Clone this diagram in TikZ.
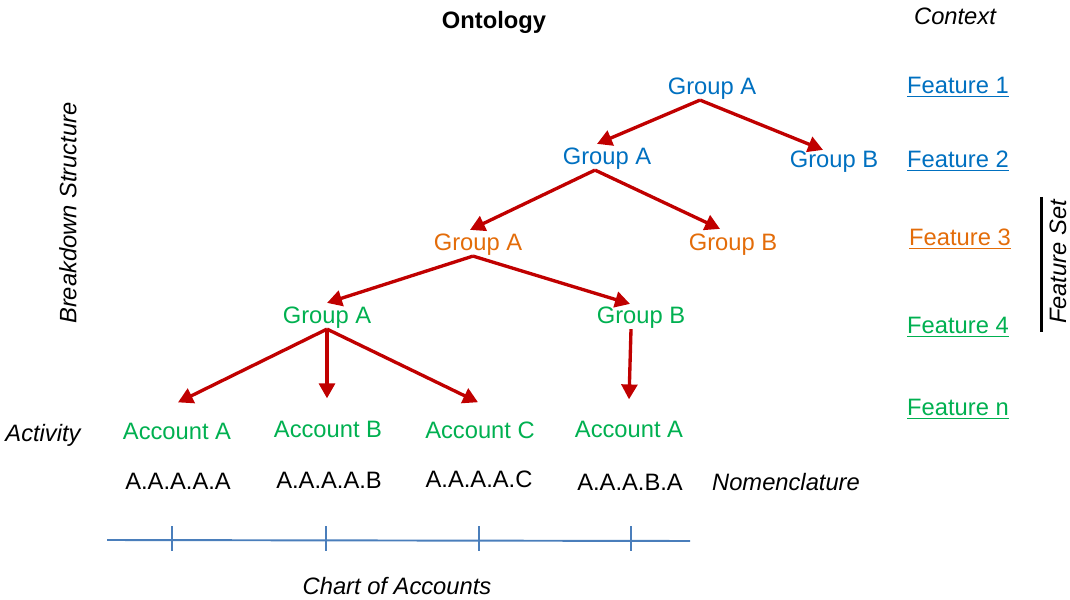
\documentclass[tikz,border=0pt]{standalone}
\usepackage{fontspec}
\setmainfont{Liberation Sans}
\usepackage{tikz}
\usetikzlibrary{arrows.meta}
\usepackage{xcolor}

\definecolor{featblue}{HTML}{0070C0}
\definecolor{featorange}{HTML}{E36C09}
\definecolor{featgreen}{HTML}{00B050}
\definecolor{arrowred}{HTML}{C00000}
\definecolor{chartblue}{HTML}{4A7EBB}

\tikzset{
    lbl/.style={inner sep=0pt, font=\fontsize{13.5}{16}\selectfont},
    side/.style={lbl, font=\fontsize{13.5}{16}\selectfont\itshape},
    branch/.style={-{Triangle[length=8.5pt,width=9pt]}, arrowred, line width=1.9pt}
}

\begin{document}
\begin{tikzpicture}
        \useasboundingbox (0, 0) rectangle (21.4, 11.98);

        % Titles
        \node[lbl, font=\fontsize{13.5}{16}\selectfont\bfseries] (onto) at (9.88, 11.54) {Ontology};
        \node[side] (ctx) at (19.10, 11.66) {Context};
        \node[side, rotate=90] (brk) at (1.36, 7.72) {Breakdown Structure};

        % Features
        \node[lbl, featblue] (f1) at (19.16, 10.24) {\underline{Feature 1}};
        \node[lbl, featblue] (f2) at (19.16, 8.76) {\underline{Feature 2}};
        \node[lbl, featorange] (f3) at (19.20, 7.20) {\underline{Feature 3}};
        \node[lbl, featgreen] (f4) at (19.16, 5.44) {\underline{Feature 4}};
        \node[lbl, featgreen] (fn) at (19.16, 3.80) {\underline{Feature n}};

        % Feature set bracket
        \coordinate (fstop) at (20.82, 8.04);
        \coordinate (fsbot) at (20.82, 5.34);
        \draw[line width=1.7pt] (fstop) -- (fsbot);
        \node[side, rotate=90] (fset) at (21.16, 6.74) {Feature Set};

        % Tree
        \node[lbl, featblue] (g1) at (14.24, 10.20) {Group A};
        \node[lbl, featblue] (g2a) at (12.14, 8.80) {Group A};
        \node[lbl, featblue] (g2b) at (16.68, 8.74) {Group B};
        \node[lbl, featorange] (g3a) at (9.56, 7.08) {Group A};
        \node[lbl, featorange] (g3b) at (14.66, 7.08) {Group B};
        \node[lbl, featgreen] (g4a) at (6.54, 5.62) {Group A};
        \node[lbl, featgreen] (g4b) at (12.82, 5.62) {Group B};

        % Accounts
        \node[lbl, featgreen] (acc1) at (3.54, 3.36) {Account A};
        \node[lbl, featgreen] (acc2) at (6.56, 3.40) {Account B};
        \node[lbl, featgreen] (acc3) at (9.60, 3.38) {Account C};
        \node[lbl, featgreen] (acc4) at (12.58, 3.40) {Account A};
        \node[side] (act) at (0.86, 3.28) {Activity};

        % Arrows
        \draw[branch] ([xshift=-0.24cm]g1.south) -- ([shift={(-0.2,0.08)}]g2a.north);
        \draw[branch] ([xshift=-0.24cm]g1.south) -- ([shift={(-0.22,0.02)}]g2b.north);
        \draw[branch] ([xshift=-0.24cm]g2a.south) -- ([shift={(-0.16,0.08)}]g3a.north);
        \draw[branch] ([xshift=-0.24cm]g2a.south) -- ([shift={(-0.26,0.1)}]g3b.north);
        \draw[branch] ([xshift=-0.1cm]g3a.south) -- ([shift={(0,0.08)}]g4a.north);
        \draw[branch] ([xshift=-0.1cm]g3a.south) -- ([shift={(-0.22,0.06)}]g4b.north);
        \draw[branch] (g4a.south) -- ([shift={(0.02,0.4)}]acc1.north);
        \draw[branch] (g4a.south) -- ([shift={(-0.02,0.44)}]acc2.north);
        \draw[branch] (g4a.south) -- ([shift={(-0.04,0.38)}]acc3.north);
        \draw[branch] ([xshift=-0.2cm]g4b.south) -- ([shift={(0,0.42)}]acc4.north);

        % Nomenclature
        \node[lbl] (nom1) at (3.56, 2.36) {A.A.A.A.A};
        \node[lbl] (nom2) at (6.58, 2.38) {A.A.A.A.B};
        \node[lbl] (nom3) at (9.58, 2.40) {A.A.A.A.C};
        \node[lbl] (nom4) at (12.60, 2.34) {A.A.A.B.A};
        \node[side] (nomlbl) at (15.72, 2.34) {Nomenclature};

        % Chart of accounts line
        \coordinate (cl) at (2.14, 1.18);
        \coordinate (cr) at (13.80, 1.16);
        \draw[chartblue, line width=1.1pt] (cl) -- (cr);
        \foreach \x in {3.44, 6.52, 9.58, 12.62}
            \draw[chartblue, line width=1.3pt] (\x, 1.46) -- (\x, 0.96);
        \node[side] (coa) at (7.94, 0.26) {Chart of Accounts};

    \end{tikzpicture}
\end{document}
